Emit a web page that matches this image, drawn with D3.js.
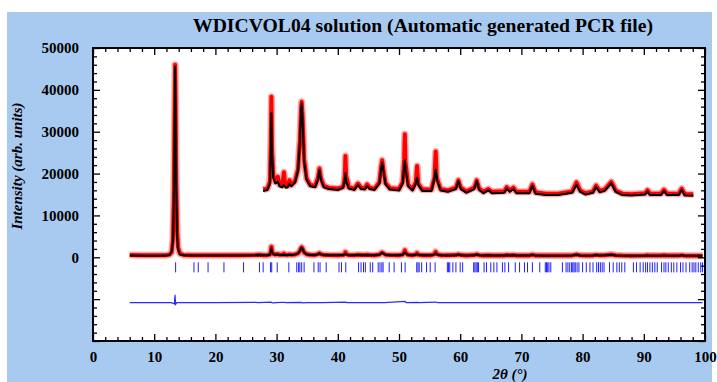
<!DOCTYPE html>
<html>
<head>
<meta charset="utf-8">
<script src="https://cdn.jsdelivr.net/npm/d3@7"></script>
<style>
  html, body { margin: 0; padding: 0; background: #fff; }
  svg { display: block; }
</style>
</head>
<body>
<div id="chart"></div>
<script>
// observed profile, [2theta, intensity]
const obsLow = [
  [6, 520], [8, 500], [10, 490], [12, 510], [12.5, 650], [12.85, 1200], [13.05, 4000],
  [13.2, 14000], [13.3, 30000], [13.42, 46000], [13.5, 36000], [13.6, 18000], [13.75, 6000],
  [13.9, 2400], [14.2, 900], [14.8, 560], [16, 510], [20, 500], [24, 510], [26.5, 560], [27.2, 620]
];
const obsHigh = [
  [27.8, 490], [28.5, 510], [28.9, 660], [29.05, 1500], [29.15, 2505], [29.25, 1400], [29.45, 800],
  [29.8, 660], [30.2, 764], [30.5, 590], [30.95, 580], [31.2, 864], [31.4, 580], [31.8, 570],
  [32.1, 691], [32.4, 590], [33.0, 670], [33.5, 930], [33.8, 1550], [34.0, 2250], [34.1, 2395],
  [34.25, 2050], [34.5, 1150], [34.9, 730], [35.5, 590], [36.3, 570], [36.75, 740], [37.0, 945],
  [37.25, 730], [37.7, 570], [38.5, 530], [40.0, 510], [40.9, 550], [41.15, 800], [41.25, 1218],
  [41.35, 800], [41.8, 540], [42.7, 510], [43.3, 620], [43.8, 530], [44.4, 520], [44.8, 600],
  [45.2, 530], [46.0, 510], [46.8, 650], [47.05, 950], [47.25, 1127], [47.45, 930], [47.8, 630],
  [48.5, 520], [50.0, 500], [50.6, 650], [50.85, 1150], [50.95, 1691], [51.05, 1100], [51.5, 590],
  [52.2, 500], [52.75, 650], [52.95, 1000], [53.15, 620], [53.8, 490], [55.3, 490], [55.8, 750],
  [56.0, 1318], [56.15, 750], [56.8, 500], [58.0, 470], [59.3, 530], [59.7, 691], [60.1, 530],
  [61.0, 450], [62.3, 530], [62.7, 690], [63.1, 510], [63.8, 440], [64.6, 500], [65.2, 440],
  [67.2, 450], [67.6, 540], [68.1, 470], [68.7, 530], [69.2, 440], [71.3, 440], [71.8, 600],
  [72.3, 430], [74.0, 400], [76.0, 400], [78.3, 450], [79.0, 645], [79.6, 470], [80.5, 410],
  [81.7, 450], [82.2, 575], [82.8, 460], [83.6, 490], [84.7, 655], [85.4, 470], [86.5, 400],
  [88.0, 390], [90.2, 410], [90.6, 475], [91.0, 400], [92.8, 400], [93.3, 485], [93.8, 400],
  [95.7, 400], [96.2, 510], [96.7, 390], [98.1, 385], [99.6, 385]
];

// calculated profile
const calcLow = [
  [6, 400], [10, 380], [12, 400], [12.5, 550], [12.9, 1500], [13.1, 5000], [13.25, 18000],
  [13.35, 36000], [13.42, 45500], [13.5, 35000], [13.6, 17000], [13.75, 5000], [13.9, 1800],
  [14.2, 700], [14.8, 480], [16, 420], [20, 400], [24, 420], [26.5, 460], [27.2, 520]
];
const calcHigh = [
  [27.8, 460], [28.5, 480], [28.9, 620], [29.05, 1300], [29.15, 2145], [29.25, 1300], [29.45, 750],
  [29.8, 620], [30.2, 655], [30.5, 560], [30.9, 540], [31.2, 582], [31.5, 530], [31.8, 540],
  [32.1, 609], [32.4, 560], [33.0, 640], [33.5, 900], [33.8, 1500], [34.0, 2200], [34.1, 2360],
  [34.25, 2000], [34.5, 1100], [34.9, 700], [35.5, 560], [36.3, 540], [36.75, 700], [37.0, 909],
  [37.25, 700], [37.7, 540], [38.5, 500], [40.0, 480], [40.8, 520], [41.1, 650], [41.25, 845],
  [41.4, 650], [41.8, 510], [42.7, 480], [43.3, 591], [43.8, 500], [44.4, 490], [44.8, 564],
  [45.2, 500], [46.0, 480], [46.8, 620], [47.05, 900], [47.25, 1073], [47.45, 900], [47.8, 600],
  [48.5, 490], [50.0, 470], [50.6, 620], [50.85, 1000], [50.95, 1127], [51.1, 900], [51.5, 560],
  [52.2, 470], [52.7, 600], [52.95, 745], [53.2, 580], [53.8, 460], [55.3, 460], [55.75, 700],
  [56.0, 927], [56.25, 680], [56.8, 470], [58.0, 440], [59.3, 500], [59.7, 673], [60.1, 500],
  [61.0, 420], [62.3, 500], [62.7, 673], [63.1, 480], [63.8, 410], [64.6, 473], [65.2, 410],
  [67.2, 420], [67.6, 509], [68.1, 440], [68.7, 500], [69.2, 410], [71.3, 410], [71.8, 573],
  [72.3, 400], [74.0, 370], [76.0, 370], [78.3, 420], [79.0, 591], [79.6, 440], [80.5, 380],
  [81.7, 420], [82.2, 545], [82.8, 430], [83.6, 460], [84.7, 627], [85.4, 440], [86.5, 370],
  [88.0, 360], [90.2, 380], [90.6, 445], [91.0, 370], [92.8, 370], [93.3, 455], [93.8, 370],
  [95.7, 370], [96.2, 482], [96.7, 360], [98.1, 355], [99.6, 355]
];

// obs - calc
const diff = [
  [6, 0], [10, 20], [12.8, 0], [13.3, -300], [13.4, 1900], [13.5, -400], [13.7, 0], [20, 0],
  [26.5, 60], [27, 0], [29.1, 150], [29.3, -60], [30, 0], [31.2, 100], [31.5, 0], [34, 60],
  [34.3, -50], [35, 0], [37, 40], [37.5, 0], [41.25, 120], [41.5, 0], [47.2, 30], [47.6, 0],
  [51, 280], [51.2, 0], [53, 60], [53.3, 0], [56, 150], [56.3, 0], [60, 20], [60.5, 0], [99.6, 0]
];

// Bragg reflection positions
const bragg = [
  13.5, 16.5, 17.2, 18.8, 21.4, 24.6, 27.2, 27.8, 29.0, 29.2, 30.1, 32.0, 33.3, 33.6, 33.8, 34.1,
  34.5, 36.1, 36.8, 37.1, 38.1, 40.2, 40.6, 41.3, 43.4, 43.8, 44.2, 44.5, 45.3, 45.7, 46.6, 46.9,
  47.2, 47.4, 48.4, 49.2, 50.4, 51.0, 52.9, 53.1, 53.3, 53.7, 54.5, 55.1, 55.9, 57.9, 58.1, 58.3,
  58.8, 59.3, 60.0, 60.4, 62.2, 62.4, 62.6, 62.8, 63.0, 63.9, 64.3, 65.0, 65.5, 66.0, 66.9, 67.3,
  67.9, 69.0, 69.7, 70.5, 71.0, 71.8, 73.0, 73.9, 74.1, 74.3, 74.5, 74.8, 76.7, 77.3, 77.6, 77.9,
  78.2, 78.4, 78.6, 78.8, 79.1, 79.4, 80.0, 80.6, 81.2, 81.7, 82.3, 82.6, 82.9, 83.2, 83.5, 84.4,
  85.0, 85.6, 86.0, 86.4, 86.9, 88.3, 88.8, 89.4, 89.9, 90.3, 90.6, 91.0, 91.4, 91.8, 92.2, 92.9,
  93.3, 93.6, 94.0, 94.5, 94.9, 95.4, 96.0, 96.4, 96.9, 97.5, 97.9, 98.2, 98.5, 98.9, 99.3, 99.6
];

const xTicks = d3.range(0, 101, 10);
const yTicks = d3.range(-20000, 50001, 10000);

// magnified copy of the high-angle part
const INSET_FROM = 27.8, INSET_TO = 98.1, INSET_GAIN = 11, INSET_SHIFT = 10800;
const DIFF_SHIFT = -10840;
const TICK_TOP = -1200, TICK_BOTTOM = -3600;

const W = 717, H = 382;
const SERIF = "'Liberation Serif', 'Times New Roman', serif";

const svg = d3.select('#chart').append('svg')
  .attr('width', W)
  .attr('height', H)
  .attr('viewBox', `0 0 ${W} ${H}`);

svg.append('rect')
  .attr('x', 7).attr('y', 12).attr('width', 705).attr('height', H - 12)
  .attr('fill', '#a9caf0');

const x = d3.scaleLinear().domain([0, 100]).range([93, 705]);
const y = d3.scaleLinear().domain([-20000, 50000]).range([341, 48]);

svg.append('rect')
  .attr('x', x(0)).attr('y', y(50000))
  .attr('width', x(100) - x(0)).attr('height', y(-20000) - y(50000))
  .attr('fill', '#fff');

svg.append('clipPath').attr('id', 'plot-clip')
  .append('rect')
  .attr('x', x(0)).attr('y', y(50000))
  .attr('width', x(100) - x(0)).attr('height', y(-20000) - y(50000));

const plot = svg.append('g').attr('clip-path', 'url(#plot-clip)');

const obs = obsLow.concat(obsHigh);
const calc = calcLow.concat(calcHigh);
const inRange = d => d[0] >= INSET_FROM && d[0] <= INSET_TO;

const line = d3.line().x(d => x(d[0])).y(d => y(d[1]));
const insetLine = d3.line().x(d => x(d[0])).y(d => y(INSET_SHIFT + INSET_GAIN * d[1]));
const diffLine = d3.line().x(d => x(d[0])).y(d => y(DIFF_SHIFT + d[1]));

function drawObs(path) {
  plot.append('path').attr('d', path)
    .attr('fill', 'none').attr('stroke', '#ff4040').attr('stroke-opacity', 0.45)
    .attr('stroke-width', 7).attr('stroke-linejoin', 'round');
  plot.append('path').attr('d', path)
    .attr('fill', 'none').attr('stroke', '#ff0000')
    .attr('stroke-width', 4).attr('stroke-linejoin', 'round');
}
function drawCalc(path) {
  plot.append('path').attr('d', path)
    .attr('fill', 'none').attr('stroke', '#000')
    .attr('stroke-width', 2).attr('stroke-linejoin', 'round');
}

drawObs(line(obs));
drawCalc(line(calc));
drawObs(insetLine(obsHigh.filter(inRange)));
drawCalc(insetLine(calcHigh.filter(inRange)));

plot.append('g').selectAll('line')
  .data(bragg)
  .join('line')
  .attr('x1', d => x(d)).attr('x2', d => x(d))
  .attr('y1', y(TICK_TOP)).attr('y2', y(TICK_BOTTOM))
  .attr('stroke', '#1f1fff').attr('stroke-width', 1);

plot.append('path').attr('d', diffLine(diff))
  .attr('fill', 'none').attr('stroke', '#2a2aff').attr('stroke-width', 1.2);

// axes, ticks inside the frame
const minorX = d3.range(0, 101, 2).filter(v => v % 10);
const minorY = d3.range(-20000, 50001, 2000).filter(v => v % 10000);

function styleAxis(g) {
  g.select('.domain').remove();
  g.selectAll('.tick line').attr('stroke', '#000').attr('stroke-width', 1.3);
  g.selectAll('text')
    .attr('font-family', SERIF).attr('font-weight', 'bold')
    .attr('font-size', 15).attr('fill', '#000');
}

svg.append('g').attr('transform', `translate(${x(0)},0)`)
  .call(d3.axisLeft(y).tickValues(yTicks).tickSize(-7).tickPadding(14)
    .tickFormat(v => v >= 0 ? v : ''))
  .call(styleAxis);
svg.append('g').attr('transform', `translate(${x(0)},0)`)
  .call(d3.axisLeft(y).tickValues(minorY).tickSize(-4).tickFormat(''))
  .call(styleAxis);
svg.append('g').attr('transform', `translate(${x(100)},0)`)
  .call(d3.axisRight(y).tickValues(yTicks).tickSize(-7).tickFormat(''))
  .call(styleAxis);
svg.append('g').attr('transform', `translate(${x(100)},0)`)
  .call(d3.axisRight(y).tickValues(minorY).tickSize(-4).tickFormat(''))
  .call(styleAxis);

svg.append('g').attr('transform', `translate(0,${y(-20000)})`)
  .call(d3.axisBottom(x).tickValues(xTicks).tickSize(-7).tickPadding(10))
  .call(styleAxis);
svg.append('g').attr('transform', `translate(0,${y(-20000)})`)
  .call(d3.axisBottom(x).tickValues(minorX).tickSize(-4).tickFormat(''))
  .call(styleAxis);
svg.append('g').attr('transform', `translate(0,${y(50000)})`)
  .call(d3.axisTop(x).tickValues(xTicks).tickSize(-7).tickFormat(''))
  .call(styleAxis);
svg.append('g').attr('transform', `translate(0,${y(50000)})`)
  .call(d3.axisTop(x).tickValues(minorX).tickSize(-4).tickFormat(''))
  .call(styleAxis);

svg.append('rect')
  .attr('x', x(0)).attr('y', y(50000))
  .attr('width', x(100) - x(0)).attr('height', y(-20000) - y(50000))
  .attr('fill', 'none').attr('stroke', '#000').attr('stroke-width', 2);

// titles
svg.append('text')
  .attr('x', 423).attr('y', 32)
  .attr('text-anchor', 'middle')
  .attr('font-family', SERIF).attr('font-weight', 'bold').attr('font-size', 18)
  .attr('textLength', 460).attr('lengthAdjust', 'spacingAndGlyphs')
  .text('WDICVOL04 solution (Automatic generated PCR file)');

svg.append('text')
  .attr('transform', 'translate(22,166) rotate(-90)')
  .attr('text-anchor', 'middle')
  .attr('font-family', SERIF).attr('font-weight', 'bold').attr('font-style', 'italic')
  .attr('font-size', 15)
  .text('Intensity (arb. units)');

svg.append('text')
  .attr('x', 510).attr('y', 379)
  .attr('text-anchor', 'middle')
  .attr('font-family', SERIF).attr('font-weight', 'bold').attr('font-style', 'italic')
  .attr('font-size', 15)
  .text('2θ (°)');
</script>
</body>
</html>
